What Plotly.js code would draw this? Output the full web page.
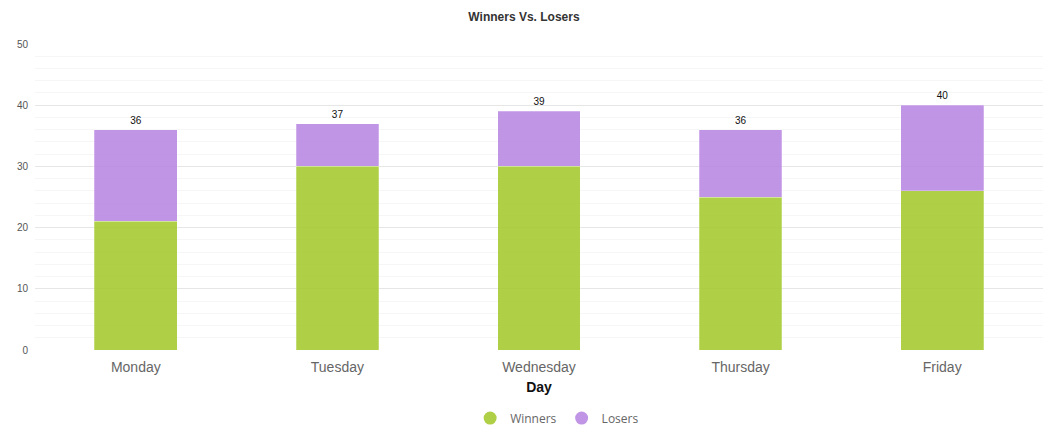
<!DOCTYPE html>
<html><head><meta charset="utf-8">
<script src="https://cdn.plot.ly/plotly-3.0.1.min.js"></script>
<style>html,body{margin:0;padding:0;background:#fff;}#chart{width:1048px;height:443px;}</style>
</head><body><div id="chart"></div>
<script>
const days = ["Monday", "Tuesday", "Wednesday", "Thursday", "Friday"];
const winners = [21, 30, 30, 25, 26];
const losers = [15, 7, 9, 11, 14];
const totals = days.map((d, i) => winners[i] + losers[i]);

const green = "rgba(164,200,46,0.88)";
const purple = "rgba(184,134,226,0.88)";
const sans = "Liberation Sans, Arial, sans-serif";

const traces = [
  {type: "bar", x: days, y: winners, name: "Winners", marker: {color: green, line: {color: "rgba(255,255,255,0.5)", width: 0.5}}, showlegend: false, hoverinfo: "y+name"},
  {type: "bar", x: days, y: losers, name: "Losers", marker: {color: purple, line: {color: "rgba(255,255,255,0.5)", width: 0.5}}, showlegend: false, hoverinfo: "y+name"},
  {type: "scatter", mode: "markers+text", x: days, y: totals, text: totals.map(String), textposition: "top center", marker: {size: 4, color: "rgba(0,0,0,0)"}, textfont: {size: 10, color: "#111", family: sans}, showlegend: false, hoverinfo: "skip"},
  {type: "scatter", mode: "markers", x: [null], y: [null], name: "Winners", marker: {symbol: "circle", size: 13, color: green}},
  {type: "scatter", mode: "markers", x: [null], y: [null], name: "Losers", marker: {symbol: "circle", size: 13, color: purple}}
];

const layout = {
  width: 1048, height: 443,
  margin: {l: 35, r: 5, t: 44, b: 93},
  paper_bgcolor: "#fff", plot_bgcolor: "#fff",
  barmode: "stack", bargap: 0.59,
  font: {family: sans, color: "#666"},
  title: {text: "<b>Winners Vs. Losers</b>", x: 0.5, xanchor: "center", y: 0.963, yanchor: "middle", font: {size: 12, color: "#333", family: sans}},
  xaxis: {
    type: "category", showgrid: false, zeroline: false, showline: false, ticks: "",
    tickfont: {size: 14, color: "#666", family: sans},
    ticklabelstandoff: 7,
    title: {text: "<b>Day</b>", font: {size: 14, color: "#111", family: sans}, standoff: 8}
  },
  yaxis: {
    range: [0, 50], dtick: 10, showgrid: true, gridcolor: "#e6e6e6", gridwidth: 1,
    zeroline: false, showline: false, ticks: "",
    tickfont: {size: 10, color: "#555", family: sans},
    ticklabelstandoff: 6,
    minor: {dtick: 2, showgrid: true, gridcolor: "#f6f6f6", gridwidth: 1}
  },
  showlegend: true,
  legend: {orientation: "h", traceorder: "normal", x: 0.518, xanchor: "center", y: -0.175, yanchor: "top", font: {size: 12, color: "#666", family: "Open Sans, sans-serif"}, itemwidth: 30},
  hovermode: "closest"
};

Plotly.newPlot("chart", traces, layout, {displayModeBar: false, responsive: false});
</script></body></html>
